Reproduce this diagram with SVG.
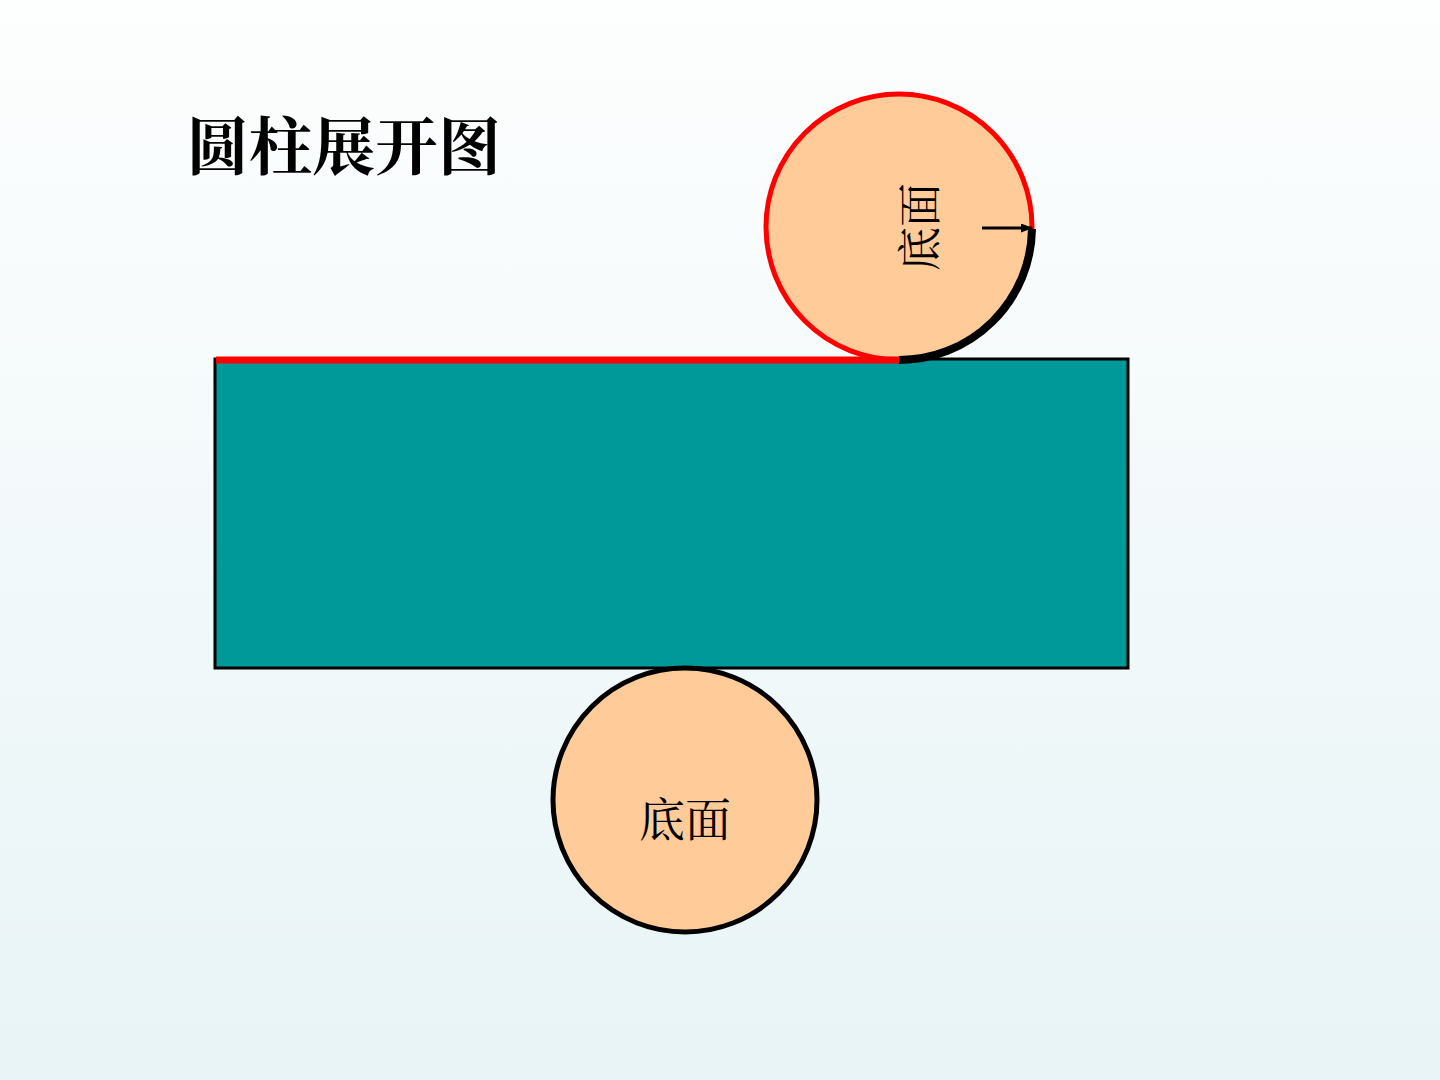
<svg xmlns="http://www.w3.org/2000/svg" width="1440" height="1080" viewBox="0 0 1440 1080">
<defs>
<linearGradient id="bg" x1="0" y1="0" x2="0" y2="1">
<stop offset="0" stop-color="#fdfefe"/>
<stop offset="1" stop-color="#e8f4f6"/>
</linearGradient>
<marker id="arr" markerWidth="12" markerHeight="9" refX="11" refY="4.5" orient="auto" markerUnits="userSpaceOnUse" viewBox="0 0 12 9">
<path d="M0,0 L12,4.5 L0,9 z" fill="#000"/>
</marker>
<style>
.cjk{font-family:"Noto Serif CJK SC","Noto Sans CJK SC",serif;fill:#000;}
.face{fill:#ffcc99;}
</style>
</defs>
<rect width="1440" height="1080" fill="url(#bg)"/>
<text class="cjk" x="186" y="169" font-size="63" font-weight="bold">圆柱展开图</text>
<g id="side">
<rect x="215" y="359" width="913" height="309" fill="#009999" stroke="#000" stroke-width="3"/>
</g>
<g id="top-base">
<circle class="face" cx="899" cy="227" r="133" stroke="#ff0000" stroke-width="5"/>
<text class="cjk" x="0" y="0" font-size="44" text-anchor="middle" transform="translate(936,227) rotate(-90)">底面</text>
</g>
<g id="bottom-base">
<circle class="face" cx="685" cy="800" r="132" stroke="#000" stroke-width="5"/>
<text class="cjk" x="685" y="836" font-size="46" text-anchor="middle">底面</text>
</g>
<g id="connectors">
<line x1="216" y1="360" x2="900" y2="360" stroke="#ff0000" stroke-width="7"/>
<path d="M1032,229 A133,133 0 0 1 899,360" fill="none" stroke="#000" stroke-width="8"/>
<line x1="982" y1="228" x2="1032" y2="228" stroke="#000" stroke-width="3" marker-end="url(#arr)"/>
</g>
</svg>
